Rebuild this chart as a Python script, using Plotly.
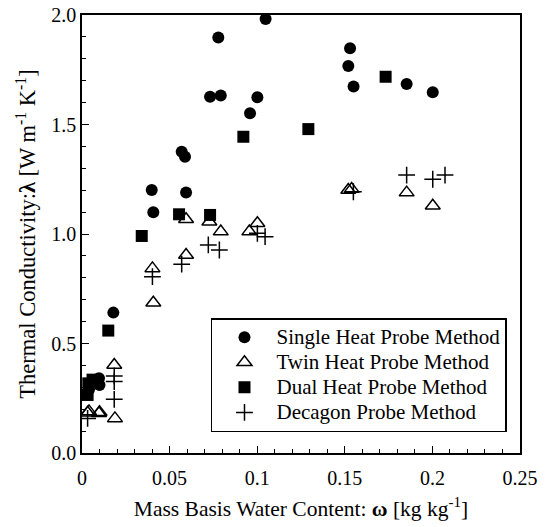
import plotly.graph_objects as go

single_w = [0.0040, 0.0097, 0.0100, 0.0179, 0.0398, 0.0407, 0.0569, 0.0588, 0.0594,
            0.0731, 0.0792, 0.0778, 0.0959, 0.1001, 0.1048, 0.1530, 0.1520, 0.1550, 0.1853, 0.2002]
single_l = [0.29, 0.341, 0.310, 0.641, 1.201, 1.099, 1.376, 1.353, 1.189,
            1.627, 1.632, 1.897, 1.551, 1.624, 1.982, 1.848, 1.767, 1.673, 1.685, 1.647]

twin_w = [0.0032, 0.0040, 0.0097, 0.0100, 0.0184, 0.0188, 0.0402, 0.0407, 0.0594, 0.0594,
          0.0727, 0.0792, 0.0955, 0.1001, 0.1520, 0.1539, 0.1853, 0.2002]
twin_l = [0.184, 0.190, 0.181, 0.186, 0.402, 0.158, 0.843, 0.686, 1.067, 0.904,
          1.056, 1.011, 1.011, 1.049, 1.201, 1.205, 1.189, 1.129]

dual_w = [0.0036, 0.0032, 0.0060, 0.0150, 0.0341, 0.0554, 0.0731, 0.0921, 0.1292, 0.1733]
dual_l = [0.318, 0.265, 0.335, 0.559, 0.991, 1.090, 1.087, 1.444, 1.479, 1.718]

deca_w = [0.0032, 0.0184, 0.0184, 0.0184, 0.0402, 0.0569, 0.0721, 0.0784, 0.1001, 0.1045,
          0.1549, 0.1853, 0.2002, 0.2072]
deca_l = [0.158, 0.352, 0.326, 0.245, 0.805, 0.862, 0.950, 0.927, 1.003, 0.988,
          1.193, 1.269, 1.250, 1.269]

names = ["Single Heat Probe Method", "Twin Heat Probe Method",
         "Dual Heat Probe Method", "Decagon Probe Method"]

x_tickvals = [0, 0.05, 0.1, 0.15, 0.2, 0.25]
x_ticktext = ["0", "0.05", "0.1", "0.15", "0.2", "0.25"]
y_tickvals = [0, 0.5, 1.0, 1.5, 2.0]
y_ticktext = ["0.0", "0.5", "1.0", "1.5", "2.0"]

FONT = "Liberation Serif"


def legend_label(s):
    return '<span style="font-size:21px">' + s + '</span>'


fig = go.Figure()
fig.add_trace(go.Scatter(x=single_w, y=single_l, mode="markers", name=legend_label(names[0]),
                         marker=dict(symbol="circle", size=12, color="black")))
fig.add_trace(go.Scatter(x=twin_w, y=twin_l, mode="markers", name=legend_label(names[1]),
                         marker=dict(symbol="triangle-up-open", size=13, color="black",
                                     line=dict(width=1.5, color="black"))))
fig.add_trace(go.Scatter(x=dual_w, y=dual_l, mode="markers", name=legend_label(names[2]),
                         marker=dict(symbol="square", size=12, color="black")))
fig.add_trace(go.Scatter(x=deca_w, y=deca_l, mode="markers", name=legend_label(names[3]),
                         marker=dict(symbol="cross-thin", size=12, color="black",
                                     line=dict(width=1.5, color="black"))))

axis_common = dict(showline=True, linecolor="black", linewidth=1.5, mirror=True,
                   ticks="inside", ticklen=7, tickwidth=1, tickcolor="black",
                   showgrid=False, zeroline=False, automargin=False,
                   tickfont=dict(family=FONT, size=20, color="black"))

fig.update_xaxes(range=[0, 0.25], tickvals=x_tickvals, ticktext=x_ticktext,
                 ticklabelstandoff=6,
                 minor=dict(dtick=0.01, ticks="inside", ticklen=4, tickcolor="black", tickwidth=1),
                 title=dict(text="Mass Basis Water Content: <b>ω</b> [kg kg<sup>-1</sup>]",
                            font=dict(family=FONT, size=21.5, color="black"), standoff=13),
                 **axis_common)
fig.update_yaxes(range=[0, 2.0], tickvals=y_tickvals, ticktext=y_ticktext,
                 minor=dict(dtick=0.1, ticks="inside", ticklen=4, tickcolor="black", tickwidth=1),
                 title=dict(text="Thermal Conductivity:<b>λ</b> [W m<sup>-1</sup> K<sup>-1</sup>]",
                            font=dict(family=FONT, size=22.5, color="black"), standoff=9),
                 **axis_common)

fig.update_layout(
    width=550, height=527,
    margin=dict(l=82, r=30, t=15, b=74),
    paper_bgcolor="white", plot_bgcolor="white",
    legend=dict(x=0.2945, y=0.308, xanchor="left", yanchor="top",
                bordercolor="black", borderwidth=1.5, bgcolor="white",
                font=dict(family=FONT, size=17, color="black"),
                itemwidth=54),
    showlegend=True,
)

fig.write_html("out.html", config={"displayModeBar": False},
               post_script="document.body.style.margin='0';")
